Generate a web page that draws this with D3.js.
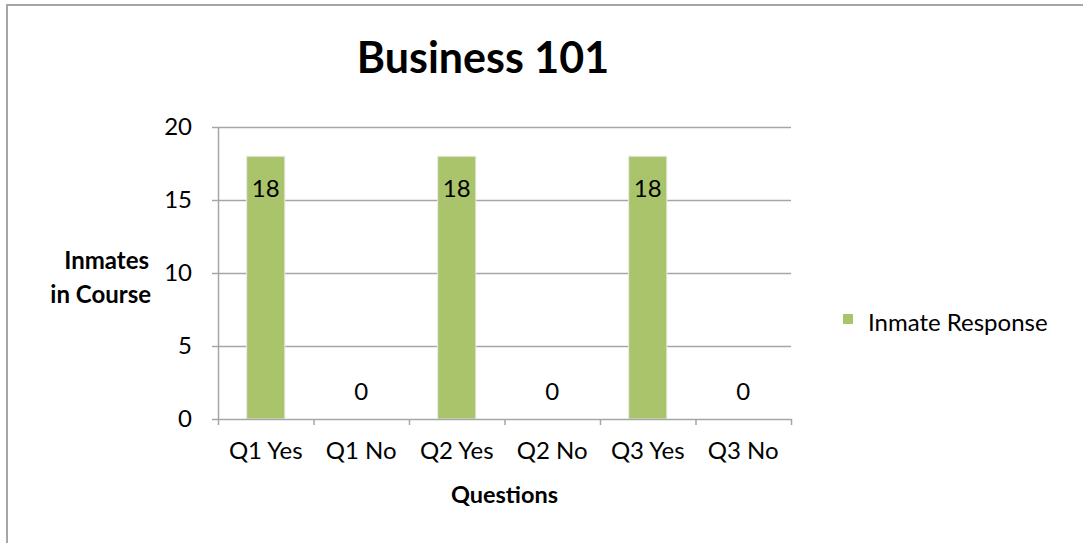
<!DOCTYPE html>
<html>
<head>
<meta charset="utf-8">
<script src="https://cdn.jsdelivr.net/npm/d3@7"></script>
<style>
  body { margin: 0; background: #fff; }
  text { font-family: Lato, "Open Sans", sans-serif; fill: #000; }
</style>
</head>
<body>
<script>
// chart data
var categories = ["Q1 Yes", "Q1 No", "Q2 Yes", "Q2 No", "Q3 Yes", "Q3 No"];
var responses = [18, 0, 18, 0, 18, 0];
var yTicks = [0, 5, 10, 15, 20];
var seriesName = "Inmate Response";

var W = 1083, H = 543;
// plot area edges
var pLeft = 218, pRight = 791, pTop = 127, pBottom = 419;

var svg = d3.select("body").append("svg")
    .attr("width", W)
    .attr("height", H);

// outer frame (runs off the right and bottom of the picture)
svg.append("rect")
    .attr("x", 7).attr("y", 5)
    .attr("width", 1200).attr("height", 700)
    .attr("fill", "none")
    .attr("stroke", "#a6a6a6")
    .attr("stroke-width", 2);

// scales
var x = d3.scaleBand()
    .domain(categories)
    .range([pLeft, pRight])
    .paddingInner(0.6)
    .paddingOuter(0.3);
var xb = d3.scaleLinear().domain([0, categories.length]).range([pLeft, pRight]);
var y = d3.scaleLinear().domain([0, 20]).range([pBottom, pTop]);

// gridlines
svg.append("g")
    .attr("transform", `translate(${pLeft},0)`)
    .call(d3.axisLeft(y).tickValues(yTicks.slice(1)).tickSize(-(pRight - pLeft)).tickFormat(""))
    .call(g => g.select(".domain").remove())
    .call(g => g.selectAll("line").attr("stroke", "#a6a6a6").attr("stroke-width", 1.5));

// y axis
svg.append("g")
    .attr("transform", `translate(${pLeft},0)`)
    .call(d3.axisLeft(y).tickValues(yTicks).tickSize(6).tickSizeOuter(0).tickPadding(20))
    .call(g => g.select(".domain").attr("stroke", "#a6a6a6").attr("stroke-width", 1.5))
    .call(g => g.selectAll("line").attr("stroke", "#a6a6a6").attr("stroke-width", 1.5))
    .call(g => g.selectAll("text").style("font-size", "24px").style("font-family", "Lato").attr("fill", "#000"));

// bars
svg.selectAll("rect.bar")
    .data(responses)
    .enter().append("rect")
    .attr("class", "bar")
    .attr("x", (d, i) => x(categories[i]))
    .attr("y", d => y(d))
    .attr("width", x.bandwidth())
    .attr("height", d => y(0) - y(d))
    .attr("fill", "#aac46b")
    .attr("stroke", "#ececec")
    .attr("stroke-width", 1);

// x axis with boundary ticks
svg.append("g")
    .attr("transform", `translate(0,${pBottom})`)
    .call(d3.axisBottom(xb).tickValues(d3.range(categories.length + 1)).tickSize(6).tickSizeOuter(0).tickFormat(""))
    .call(g => g.select(".domain").attr("stroke", "#a6a6a6").attr("stroke-width", 1.5))
    .call(g => g.selectAll("line").attr("stroke", "#a6a6a6").attr("stroke-width", 1.5));

svg.append("g")
    .attr("transform", `translate(0,${pBottom})`)
    .call(d3.axisBottom(x).tickSize(0).tickPadding(23))
    .call(g => g.select(".domain").remove())
    .call(g => g.selectAll("text").style("font-size", "24px").style("font-family", "Lato").attr("fill", "#000"));

// data labels
svg.selectAll("text.lbl")
    .data(responses)
    .enter().append("text")
    .attr("class", "lbl")
    .attr("x", (d, i) => x(categories[i]) + x.bandwidth() / 2)
    .attr("y", d => d > 0 ? y(d) + 41 : y(d) - 19)
    .attr("text-anchor", "middle")
    .style("font-size", "24px")
    .text(d => d);

// title
svg.append("text")
    .attr("x", 483).attr("y", 73)
    .attr("text-anchor", "middle")
    .style("font-size", "43px")
    .style("font-weight", "bold")
    .text("Business 101");

// axis titles
svg.append("text")
    .attr("x", (pLeft + pRight) / 2).attr("y", 503)
    .attr("text-anchor", "middle")
    .style("font-size", "23.5px")
    .style("font-weight", "bold")
    .text("Questions");

var yt = svg.append("text")
    .attr("text-anchor", "end")
    .style("font-size", "24px")
    .style("font-weight", "bold");
yt.append("tspan").attr("x", 149).attr("y", 269).text("Inmates");
yt.append("tspan").attr("x", 151).attr("y", 303).text("in Course");

// legend
svg.append("rect")
    .attr("x", 843).attr("y", 314)
    .attr("width", 10).attr("height", 10)
    .attr("fill", "#aac46b");
svg.append("text")
    .attr("x", 868).attr("y", 331)
    .style("font-size", "24px")
    .text(seriesName);
</script>
</body>
</html>
